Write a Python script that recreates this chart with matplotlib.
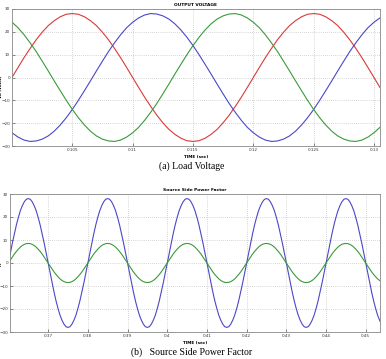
import matplotlib
matplotlib.use("Agg")
import matplotlib.pyplot as plt

# ---- (a) load voltage, samples read every 0.5 ms ----
t_a = [0.1000, 0.1005, 0.1010, 0.1015, 0.1020, 0.1025, 0.1030, 0.1035, 0.1040, 0.1045,
       0.1050, 0.1055, 0.1060, 0.1065, 0.1070, 0.1075, 0.1080, 0.1085, 0.1090, 0.1095,
       0.1100, 0.1105, 0.1110, 0.1115, 0.1120, 0.1125, 0.1130, 0.1135, 0.1140, 0.1145,
       0.1150, 0.1155, 0.1160, 0.1165, 0.1170, 0.1175, 0.1180, 0.1185, 0.1190, 0.1195,
       0.1200, 0.1205, 0.1210, 0.1215, 0.1220, 0.1225, 0.1230, 0.1235, 0.1240, 0.1245,
       0.1250, 0.1255, 0.1260, 0.1265, 0.1270, 0.1275, 0.1280, 0.1285, 0.1290, 0.1295,
       0.1300, 0.1305]
va_red = [0.0, 4.4, 8.7, 12.7, 16.5, 19.8, 22.7, 24.9, 26.6, 27.7,
          28.0, 27.7, 26.6, 24.9, 22.7, 19.8, 16.5, 12.7, 8.7, 4.4,
          0.0, -4.4, -8.7, -12.7, -16.5, -19.8, -22.7, -24.9, -26.6, -27.7,
          -28.0, -27.7, -26.6, -24.9, -22.7, -19.8, -16.5, -12.7, -8.7, -4.4,
          0.0, 4.4, 8.7, 12.7, 16.5, 19.8, 22.7, 24.9, 26.6, 27.7,
          28.0, 27.7, 26.6, 24.9, 22.7, 19.8, 16.5, 12.7, 8.7, 4.4,
          0.0, -4.4]
va_blue = [-24.2, -26.1, -27.4, -28.0, -27.8, -27.0, -25.6, -23.5, -20.8, -17.6,
           -14.0, -10.0, -5.8, -1.5, 2.9, 7.2, 11.4, 15.2, 18.7, 21.8,
           24.2, 26.1, 27.4, 28.0, 27.8, 27.0, 25.6, 23.5, 20.8, 17.6,
           14.0, 10.0, 5.8, 1.5, -2.9, -7.2, -11.4, -15.2, -18.7, -21.8,
           -24.2, -26.1, -27.4, -28.0, -27.8, -27.0, -25.6, -23.5, -20.8, -17.6,
           -14.0, -10.0, -5.8, -1.5, 2.9, 7.2, 11.4, 15.2, 18.7, 21.8,
           24.2, 26.1]
va_green = [24.2, 21.8, 18.7, 15.2, 11.4, 7.2, 2.9, -1.5, -5.8, -10.0,
            -14.0, -17.6, -20.8, -23.5, -25.6, -27.0, -27.8, -28.0, -27.4, -26.1,
            -24.2, -21.8, -18.7, -15.2, -11.4, -7.2, -2.9, 1.5, 5.8, 10.0,
            14.0, 17.6, 20.8, 23.5, 25.6, 27.0, 27.8, 28.0, 27.4, 26.1,
            24.2, 21.8, 18.7, 15.2, 11.4, 7.2, 2.9, -1.5, -5.8, -10.0,
            -14.0, -17.6, -20.8, -23.5, -25.6, -27.0, -27.8, -28.0, -27.4, -26.1,
            -24.2, -21.8]
ticks_a = [0.105, 0.11, 0.115, 0.12, 0.125, 0.13]
labels_a = ["0.105", "0.11", "0.115", "0.12", "0.125", "0.13"]

# ---- (b) source side power factor, samples read every 0.5 ms ----
t_b = [0.3600, 0.3605, 0.3610, 0.3615, 0.3620, 0.3625, 0.3630, 0.3635, 0.3640, 0.3645,
       0.3650, 0.3655, 0.3660, 0.3665, 0.3670, 0.3675, 0.3680, 0.3685, 0.3690, 0.3695,
       0.3700, 0.3705, 0.3710, 0.3715, 0.3720, 0.3725, 0.3730, 0.3735, 0.3740, 0.3745,
       0.3750, 0.3755, 0.3760, 0.3765, 0.3770, 0.3775, 0.3780, 0.3785, 0.3790, 0.3795,
       0.3800, 0.3805, 0.3810, 0.3815, 0.3820, 0.3825, 0.3830, 0.3835, 0.3840, 0.3845,
       0.3850, 0.3855, 0.3860, 0.3865, 0.3870, 0.3875, 0.3880, 0.3885, 0.3890, 0.3895,
       0.3900, 0.3905, 0.3910, 0.3915, 0.3920, 0.3925, 0.3930, 0.3935, 0.3940, 0.3945,
       0.3950, 0.3955, 0.3960, 0.3965, 0.3970, 0.3975, 0.3980, 0.3985, 0.3990, 0.3995,
       0.4000, 0.4005, 0.4010, 0.4015, 0.4020, 0.4025, 0.4030, 0.4035, 0.4040, 0.4045,
       0.4050, 0.4055, 0.4060, 0.4065, 0.4070, 0.4075, 0.4080, 0.4085, 0.4090, 0.4095,
       0.4100, 0.4105, 0.4110, 0.4115, 0.4120, 0.4125, 0.4130, 0.4135, 0.4140, 0.4145,
       0.4150, 0.4155, 0.4160, 0.4165, 0.4170, 0.4175, 0.4180, 0.4185, 0.4190, 0.4195,
       0.4200, 0.4205, 0.4210, 0.4215, 0.4220, 0.4225, 0.4230, 0.4235, 0.4240, 0.4245,
       0.4250, 0.4255, 0.4260, 0.4265, 0.4270, 0.4275, 0.4280, 0.4285, 0.4290, 0.4295,
       0.4300, 0.4305, 0.4310, 0.4315, 0.4320, 0.4325, 0.4330, 0.4335, 0.4340, 0.4345,
       0.4350, 0.4355, 0.4360, 0.4365, 0.4370, 0.4375, 0.4380, 0.4385, 0.4390, 0.4395,
       0.4400, 0.4405, 0.4410, 0.4415, 0.4420, 0.4425, 0.4430, 0.4435, 0.4440, 0.4445,
       0.4450, 0.4455, 0.4460, 0.4465, 0.4470, 0.4475, 0.4480, 0.4485, 0.4490, 0.4495,
       0.4500, 0.4505, 0.4510, 0.4515, 0.4520, 0.4525, 0.4530, 0.4535, 0.4540]
pf_blue = [0.0, 4.4, 8.7, 12.7, 16.5, 19.8, 22.7, 24.9, 26.6, 27.7,
           28.0, 27.7, 26.6, 24.9, 22.7, 19.8, 16.5, 12.7, 8.7, 4.4,
           0.0, -4.4, -8.7, -12.7, -16.5, -19.8, -22.7, -24.9, -26.6, -27.7,
           -28.0, -27.7, -26.6, -24.9, -22.7, -19.8, -16.5, -12.7, -8.7, -4.4,
           0.0, 4.4, 8.7, 12.7, 16.5, 19.8, 22.7, 24.9, 26.6, 27.7,
           28.0, 27.7, 26.6, 24.9, 22.7, 19.8, 16.5, 12.7, 8.7, 4.4,
           0.0, -4.4, -8.7, -12.7, -16.5, -19.8, -22.7, -24.9, -26.6, -27.7,
           -28.0, -27.7, -26.6, -24.9, -22.7, -19.8, -16.5, -12.7, -8.7, -4.4,
           0.0, 4.4, 8.7, 12.7, 16.5, 19.8, 22.7, 24.9, 26.6, 27.7,
           28.0, 27.7, 26.6, 24.9, 22.7, 19.8, 16.5, 12.7, 8.7, 4.4,
           0.0, -4.4, -8.7, -12.7, -16.5, -19.8, -22.7, -24.9, -26.6, -27.7,
           -28.0, -27.7, -26.6, -24.9, -22.7, -19.8, -16.5, -12.7, -8.7, -4.4,
           0.0, 4.4, 8.7, 12.7, 16.5, 19.8, 22.7, 24.9, 26.6, 27.7,
           28.0, 27.7, 26.6, 24.9, 22.7, 19.8, 16.5, 12.7, 8.7, 4.4,
           0.0, -4.4, -8.7, -12.7, -16.5, -19.8, -22.7, -24.9, -26.6, -27.7,
           -28.0, -27.7, -26.6, -24.9, -22.7, -19.8, -16.5, -12.7, -8.7, -4.4,
           0.0, 4.4, 8.7, 12.7, 16.5, 19.8, 22.7, 24.9, 26.6, 27.7,
           28.0, 27.7, 26.6, 24.9, 22.7, 19.8, 16.5, 12.7, 8.7, 4.4,
           0.0, -4.4, -8.7, -12.7, -16.5, -19.8, -22.7, -24.9, -26.6]
pf_green = [0.0, 1.3, 2.6, 3.9, 5.0, 6.0, 6.9, 7.6, 8.1, 8.4,
            8.5, 8.4, 8.1, 7.6, 6.9, 6.0, 5.0, 3.9, 2.6, 1.3,
            0.0, -1.3, -2.6, -3.9, -5.0, -6.0, -6.9, -7.6, -8.1, -8.4,
            -8.5, -8.4, -8.1, -7.6, -6.9, -6.0, -5.0, -3.9, -2.6, -1.3,
            0.0, 1.3, 2.6, 3.9, 5.0, 6.0, 6.9, 7.6, 8.1, 8.4,
            8.5, 8.4, 8.1, 7.6, 6.9, 6.0, 5.0, 3.9, 2.6, 1.3,
            0.0, -1.3, -2.6, -3.9, -5.0, -6.0, -6.9, -7.6, -8.1, -8.4,
            -8.5, -8.4, -8.1, -7.6, -6.9, -6.0, -5.0, -3.9, -2.6, -1.3,
            0.0, 1.3, 2.6, 3.9, 5.0, 6.0, 6.9, 7.6, 8.1, 8.4,
            8.5, 8.4, 8.1, 7.6, 6.9, 6.0, 5.0, 3.9, 2.6, 1.3,
            0.0, -1.3, -2.6, -3.9, -5.0, -6.0, -6.9, -7.6, -8.1, -8.4,
            -8.5, -8.4, -8.1, -7.6, -6.9, -6.0, -5.0, -3.9, -2.6, -1.3,
            0.0, 1.3, 2.6, 3.9, 5.0, 6.0, 6.9, 7.6, 8.1, 8.4,
            8.5, 8.4, 8.1, 7.6, 6.9, 6.0, 5.0, 3.9, 2.6, 1.3,
            0.0, -1.3, -2.6, -3.9, -5.0, -6.0, -6.9, -7.6, -8.1, -8.4,
            -8.5, -8.4, -8.1, -7.6, -6.9, -6.0, -5.0, -3.9, -2.6, -1.3,
            0.0, 1.3, 2.6, 3.9, 5.0, 6.0, 6.9, 7.6, 8.1, 8.4,
            8.5, 8.4, 8.1, 7.6, 6.9, 6.0, 5.0, 3.9, 2.6, 1.3,
            0.0, -1.3, -2.6, -3.9, -5.0, -6.0, -6.9, -7.6, -8.1]
ticks_b = [0.37, 0.38, 0.39, 0.4, 0.41, 0.42, 0.43, 0.44, 0.45]
labels_b = ["0.37", "0.38", "0.39", "0.4", "0.41", "0.42", "0.43", "0.44", "0.45"]

y_ticks = [-30, -20, -10, 0, 10, 20, 30]

RED = "#d93a3a"
BLUE = "#4a48c8"
GREEN = "#3a9a3a"

W, H = 386, 359
fig = plt.figure(figsize=(3.86, 3.59), dpi=100)


def style(ax):
    ax.set_yticks(y_ticks)
    ax.set_ylim(-30, 30)
    ax.grid(True, color="#b0b0b0", linestyle=(0, (1, 2)), linewidth=0.5)
    ax.tick_params(direction="in", length=2, width=0.4, labelsize=3, pad=1.5,
                   colors="#333333")
    for s in ax.spines.values():
        s.set_color("#888888")
        s.set_linewidth(0.6)


# top chart
ax1 = fig.add_axes([12 / W, 1 - 146 / H, 368 / W, 137 / H])
ax1.plot(t_a, va_red, color=RED, lw=0.8)
ax1.plot(t_a, va_blue, color=BLUE, lw=0.8)
ax1.plot(t_a, va_green, color=GREEN, lw=0.8)
ax1.set_xlim(0.1, 0.1305)
ax1.set_xticks(ticks_a)
ax1.set_xticklabels(labels_a)
style(ax1)
ax1.set_title("OUTPUT VOLTAGE", fontsize=3.2, fontweight="bold", pad=2)
ax1.set_xlabel("TIME (sec)", fontsize=3, fontweight="bold", labelpad=2)
ax1.set_ylabel("Vo (volts)", fontsize=3, fontweight="bold")
ax1.yaxis.set_label_coords(-9 / 368, 0.43)

# bottom chart
ax2 = fig.add_axes([10 / W, 1 - 332 / H, 370 / W, 138 / H])
ax2.plot(t_b, pf_blue, color=BLUE, lw=0.8)
ax2.plot(t_b, pf_green, color=GREEN, lw=0.8)
ax2.set_xlim(0.3604, 0.4536)
ax2.set_xticks(ticks_b)
ax2.set_xticklabels(labels_b)
style(ax2)
ax2.set_title("Source Side Power Factor", fontsize=3.2, fontweight="bold", pad=2)
ax2.set_xlabel("TIME (sec)", fontsize=3, fontweight="bold", labelpad=2)
ax2.set_ylabel("PF", fontsize=3, fontweight="bold")
ax2.yaxis.set_label_coords(-7 / 370, 0.5)

fig.text(192 / W, 1 - 166 / H, "(a) Load Voltage", ha="center", va="center",
         family="Liberation Serif", fontsize=7)
fig.text(192 / W, 1 - 352 / H, "(b)   Source Side Power Factor", ha="center",
         va="center", family="Liberation Serif", fontsize=7)

fig.savefig("out.png", dpi=100)
